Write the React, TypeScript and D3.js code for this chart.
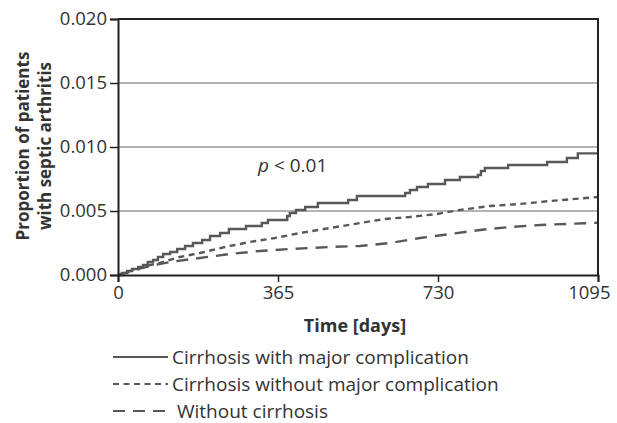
import React, { useEffect, useRef } from 'react';
import * as d3 from 'd3';

// Kaplan-Meier style cumulative incidence
const majorDays = [0, 9, 21, 32, 46, 57, 68, 80, 91, 103, 119, 135, 153, 171, 192, 210, 233, 253, 292, 328, 342, 386, 392, 406, 427, 456, 525, 545, 655, 666, 682, 707, 746, 780, 821, 828, 837, 890, 979, 1024, 1049, 1095];
const majorValues = [0, 0.00016, 0.00031, 0.00047, 0.00063, 0.00078, 0.00102, 0.00117, 0.00141, 0.00164, 0.0018, 0.00203, 0.00227, 0.0025, 0.00273, 0.00305, 0.00328, 0.00359, 0.00383, 0.00406, 0.0043, 0.00461, 0.00484, 0.00508, 0.00531, 0.00563, 0.00586, 0.00617, 0.00641, 0.00664, 0.00688, 0.00711, 0.00742, 0.00766, 0.00781, 0.00813, 0.00836, 0.00859, 0.00883, 0.00914, 0.0095, 0.0095];

const noMajorDays = [0, 27, 62, 96, 141, 187, 244, 301, 358, 415, 484, 552, 609, 666, 728, 780, 849, 917, 986, 1095];
const noMajorValues = [0, 0.00031, 0.0007, 0.00094, 0.00141, 0.00172, 0.00219, 0.00258, 0.00289, 0.00328, 0.00367, 0.00406, 0.00438, 0.00453, 0.00477, 0.00508, 0.00539, 0.00555, 0.00578, 0.00609];

const noCirrhosisDays = [0, 39, 73, 119, 187, 255, 324, 392, 484, 552, 621, 689, 757, 826, 894, 963, 1077, 1095];
const noCirrhosisValues = [0, 0.00039, 0.0007, 0.00102, 0.00133, 0.00164, 0.00188, 0.00203, 0.00219, 0.00227, 0.0025, 0.00289, 0.0032, 0.00352, 0.00375, 0.00391, 0.00406, 0.00408];

const xTicks = [0, 365, 730, 1095];
const yTicks = [0, 0.005, 0.01, 0.015, 0.02];
const seriesNames = [
  'Cirrhosis with major complication',
  'Cirrhosis without major complication',
  'Without cirrhosis',
];

const FONT = '"Open Sans", "Noto Sans", sans-serif';
const LINE = '#585858';
const AXIS = '#222';
const TEXT = '#333';

const App = () => {
  const svgRef = useRef<SVGSVGElement>(null);

  useEffect(() => {
    const svg = d3.select(svgRef.current);
    svg.selectAll('*').remove();

    const x = d3.scaleLinear().domain([0, 1095]).range([118, 598]);
    const y = d3.scaleLinear().domain([0, 0.02]).range([275, 19]);

    // gridlines
    svg.append('g')
      .selectAll('line')
      .data(yTicks.filter(t => t > 0 && t < 0.02))
      .enter().append('line')
      .attr('x1', x(0)).attr('x2', x(1095))
      .attr('y1', d => y(d)).attr('y2', d => y(d))
      .attr('stroke', '#9a9a9a')
      .attr('stroke-width', 1.5);

    const series = [
      { days: majorDays, values: majorValues, dash: null },
      { days: noMajorDays, values: noMajorValues, dash: '6 4.5' },
      { days: noCirrhosisDays, values: noCirrhosisValues, dash: '12 8' },
    ];

    series.forEach((s, i) => {
      const pts = s.days.map((d, j) => [d, s.values[j]] as [number, number]);
      const line = d3.line<[number, number]>()
        .x(d => x(d[0]))
        .y(d => y(d[1]))
        .curve(i === 0 ? d3.curveStepAfter : d3.curveLinear);
      svg.append('path')
        .datum(pts)
        .attr('fill', 'none')
        .attr('stroke', LINE)
        .attr('stroke-width', 2.4)
        .attr('stroke-dasharray', s.dash)
        .attr('d', line);
    });

    // frame: top and right borders
    svg.append('path')
      .attr('d', `M${x(0)},${y(0.02)}H${x(1095)}V${y(0)}`)
      .attr('fill', 'none')
      .attr('stroke', AXIS)
      .attr('stroke-width', 2);

    // axes
    const yAxis = svg.append('g')
      .attr('transform', `translate(${x(0)},0)`)
      .call(d3.axisLeft(y).tickValues(yTicks).tickFormat(d3.format('.3f')).tickSize(8).tickPadding(3));
    const xAxis = svg.append('g')
      .attr('transform', `translate(0,${y(0)})`)
      .call(d3.axisBottom(x).tickValues(xTicks).tickFormat(d3.format('d')).tickSize(7).tickPadding(4));

    [yAxis, xAxis].forEach(g => {
      g.select('.domain').attr('stroke', AXIS).attr('stroke-width', 2);
      g.selectAll('.tick line').attr('stroke', AXIS).attr('stroke-width', 1.5);
      g.selectAll('.tick text')
        .attr('fill', TEXT)
        .style('font-family', FONT)
        .style('font-size', '18.5px');
    });
    // last x label is pulled inside the window, as in the original
    xAxis.selectAll('.tick text')
      .filter(d => d === 1095)
      .attr('text-anchor', 'end')
      .attr('x', 12);

    // axis titles
    svg.append('text')
      .attr('x', 355)
      .attr('y', 332)
      .attr('text-anchor', 'middle')
      .text('Time [days]')
      .style('font-family', FONT)
      .style('font-size', '18px')
      .style('font-weight', 'bold')
      .style('fill', TEXT);

    const yTitle = svg.append('text')
      .attr('transform', 'translate(0,146) rotate(-90)')
      .attr('text-anchor', 'middle')
      .style('font-family', FONT)
      .style('font-size', '17px')
      .style('font-weight', 'bold')
      .style('fill', TEXT);
    yTitle.append('tspan').attr('x', 0).attr('y', 29).text('Proportion of patients');
    yTitle.append('tspan').attr('x', 0).attr('y', 51).text('with septic arthritis');

    // p-value annotation
    const p = svg.append('text')
      .attr('x', 258)
      .attr('y', 172)
      .style('font-family', FONT)
      .style('font-size', '19px')
      .style('fill', TEXT);
    p.append('tspan').style('font-style', 'italic').text('p');
    p.append('tspan').text(' < 0.01');

    // legend
    const legend = svg.append('g');
    seriesNames.forEach((name, i) => {
      const ly = 357 + i * 27;
      legend.append('line')
        .attr('x1', 113).attr('x2', 168)
        .attr('y1', ly).attr('y2', ly)
        .attr('stroke', LINE)
        .attr('stroke-width', 2.2)
        .attr('stroke-dasharray', series[i].dash);
      legend.append('text')
        .attr('x', i === 2 ? 177 : 172)
        .attr('y', ly + 6.5)
        .text(name)
        .style('font-family', FONT)
        .style('font-size', '19px')
        .style('fill', TEXT);
    });
  }, []);

  return (
    <div style={{ position: 'absolute', left: 0, top: 0 }}>
      <svg ref={svgRef} width={617} height={423} style={{ display: 'block', background: '#fff' }} />
    </div>
  );
};

export default App;
